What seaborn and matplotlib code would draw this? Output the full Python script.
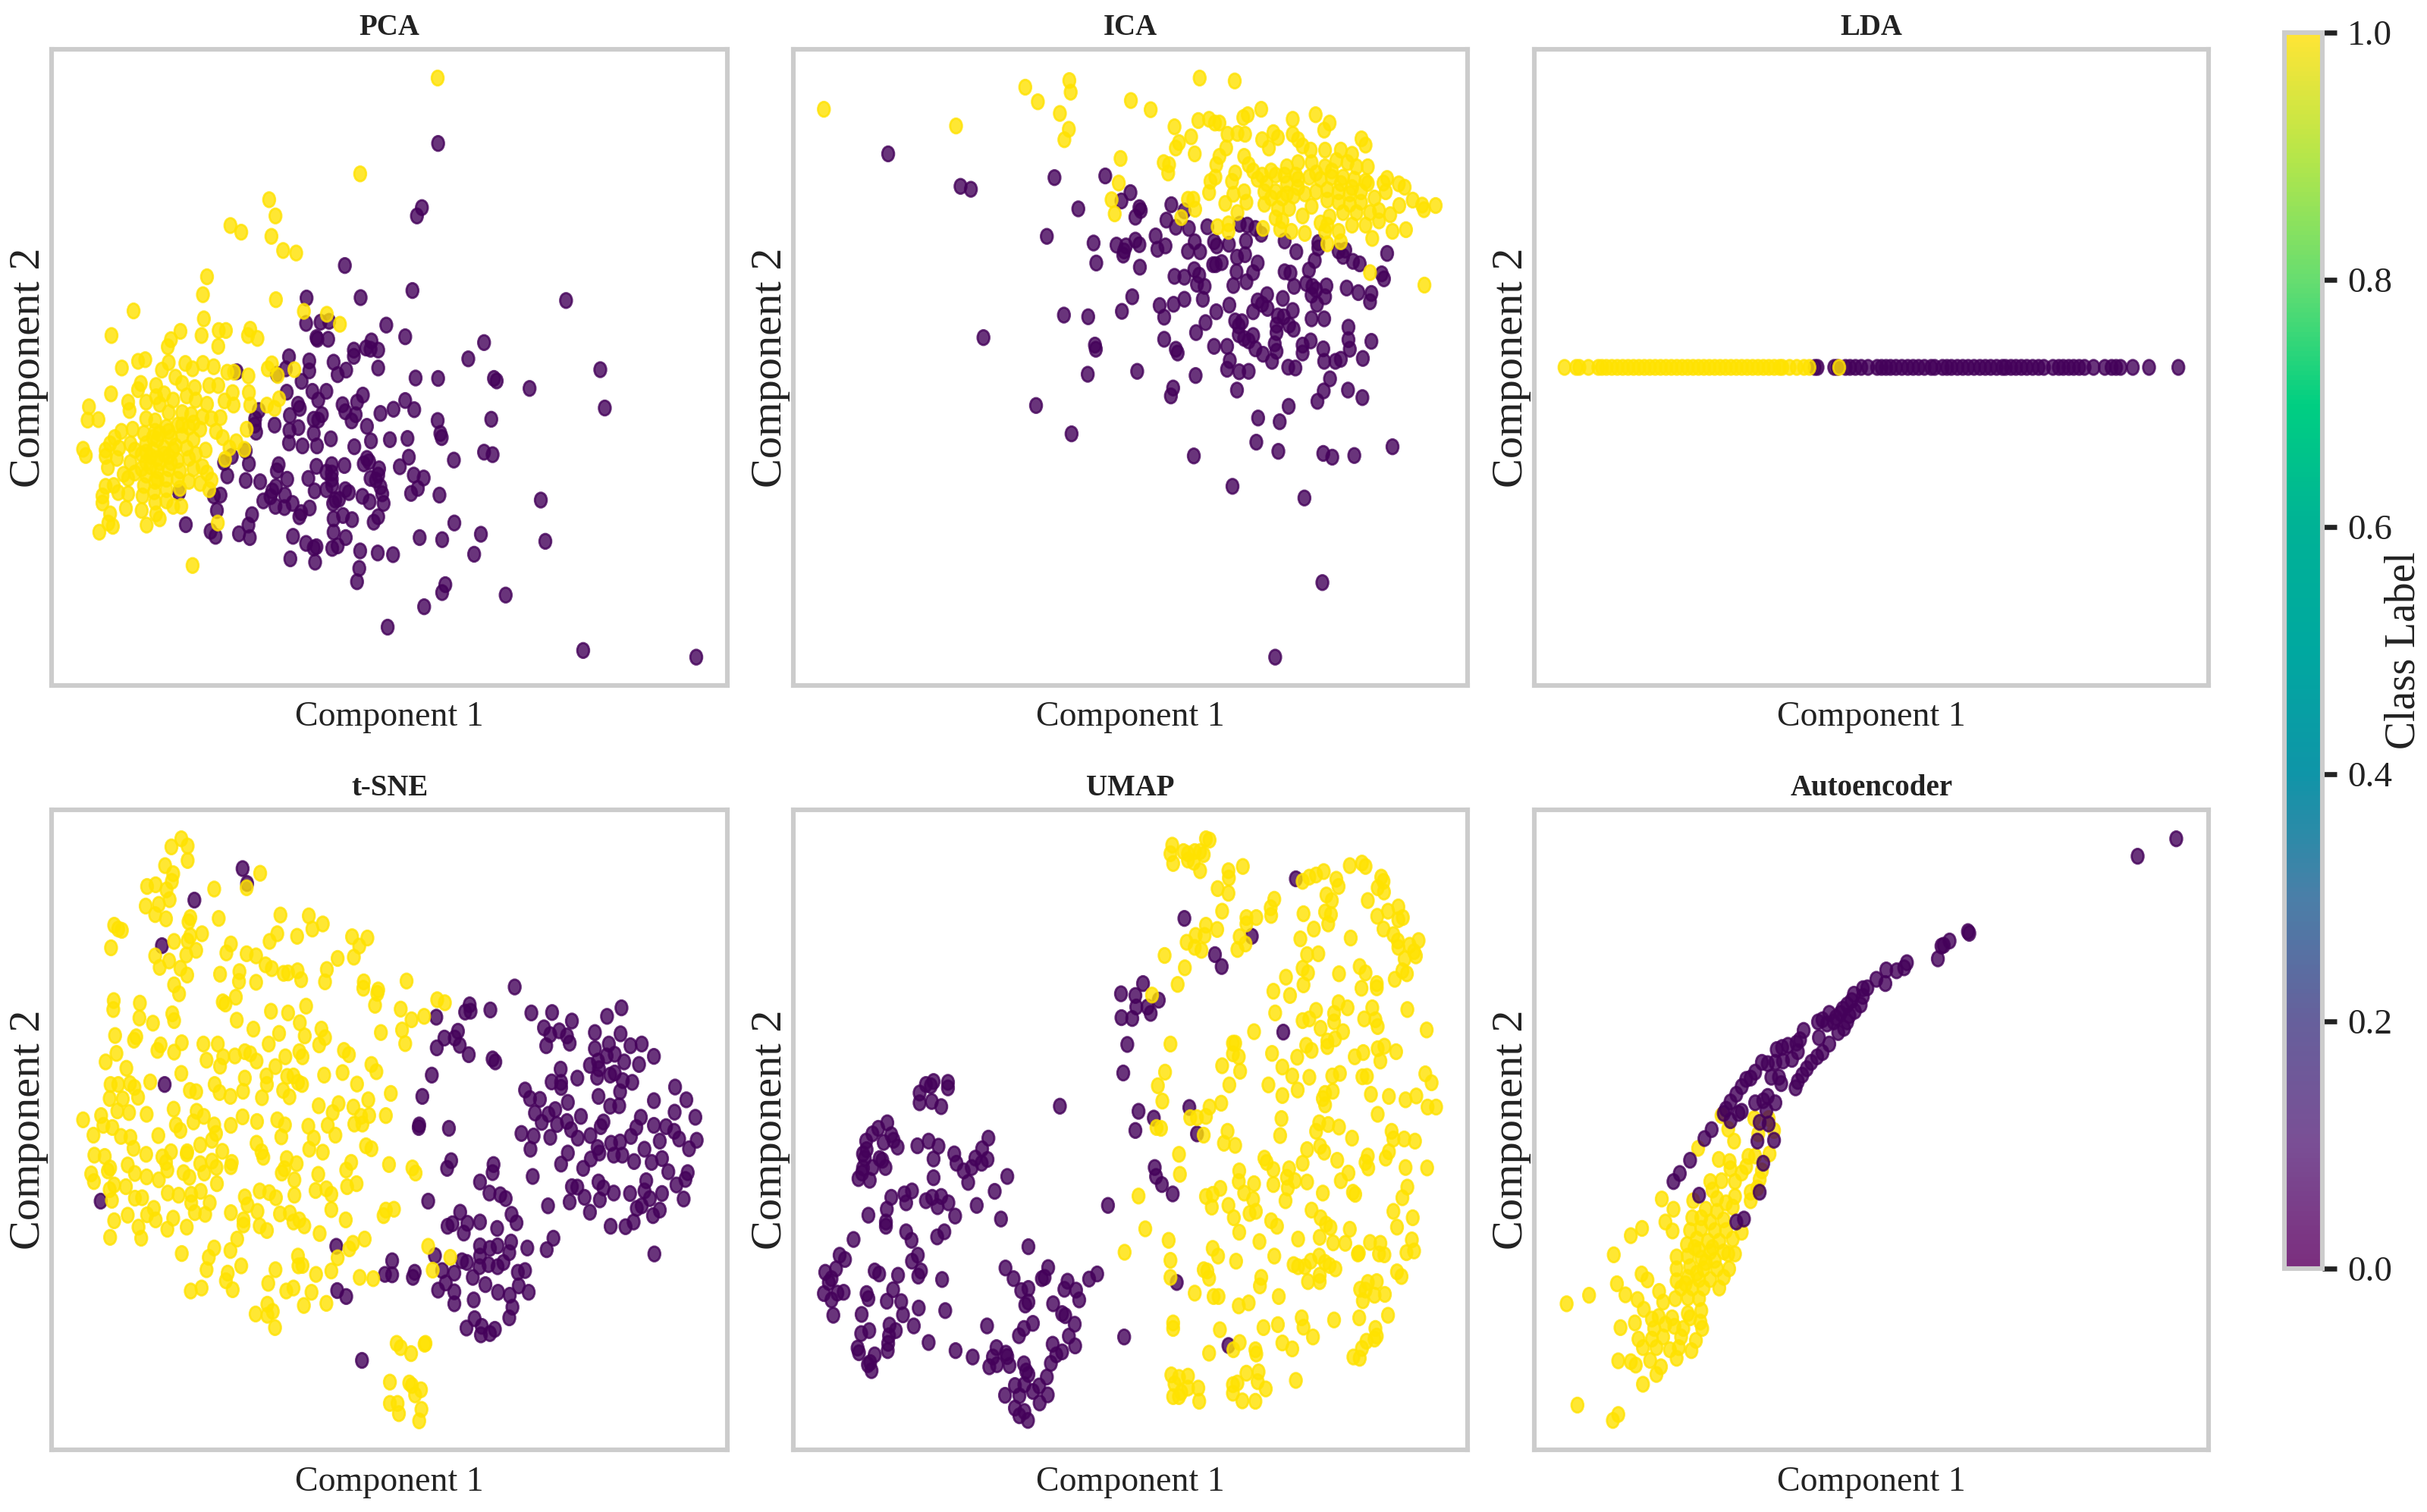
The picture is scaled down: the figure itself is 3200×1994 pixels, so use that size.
import numpy as np
import pandas as pd
import matplotlib.pyplot as plt
import matplotlib as mpl
from matplotlib.colors import LinearSegmentedColormap
from matplotlib.path import Path
from matplotlib.transforms import Affine2D
import seaborn as sns

sns.set_style("white")
plt.rcParams["font.family"] = ["Liberation Serif", "DejaVu Serif"]

# values, in arbitrary embedding units (no ticks on the original)
pca_purple = [(888,254),(852,408),(841,428),(681,547),(831,607),(716,624),(596,625),(1172,631),(595,686),(627,683),(646,681),(773,690),(618,720),(620,724),(644,724),(815,718),(990,732),(740,728),(738,748),(755,750),(728,745),(701,750),(701,765),(955,771),(557,766),(602,776),(656,779),(755,793),(684,798),(665,809),(550,795),(602,800),(530,808),(585,825),(441,802),(838,817),(888,818),(1012,818),(1018,824),(1248,797),(1091,842),(609,849),(640,849),(552,851),(721,858),(622,870),(708,875),(815,871),(577,880),(581,890),(676,881),(682,898),(789,892),(835,893),(1258,889),(705,905),(760,902),(559,907),(612,916),(630,905),(622,918),(696,920),(887,919),(1006,916),(490,895),(482,915),(481,930),(525,930),(730,933),(558,943),(578,936),(484,947),(612,950),(893,950),(896,960),(650,963),(781,965),(820,962),(739,968),(557,973),(587,980),(619,980),(702,982),(990,995),(1009,1001),(461,992),(823,1007),(923,1014),(730,1010),(723,1023),(468,1023),(430,1005),(413,1020),(534,1025),(530,1040),(618,1029),(652,1025),(680,1027),(735,1018),(757,1035),(803,1030),(640,1043),(652,1045),(420,1052),(461,1063),(493,1066),(553,1060),(600,1058),(652,1060),(755,1050),(738,1058),(750,1062),(834,1050),(856,1057),(653,1075),(760,1078),(843,1082),(528,1078),(520,1088),(614,1088),(640,1085),(682,1085),(690,1092),(828,1094),(891,1098),(1116,1110),(390,1100),(405,1098),(313,1092),(500,1112),(516,1102),(548,1098),(527,1125),(565,1118),(547,1128),(660,1110),(655,1118),(668,1108),(720,1101),(736,1114),(764,1095),(767,1118),(397,1135),(603,1129),(584,1140),(580,1150),(475,1145),(467,1170),(677,1147),(656,1155),(697,1157),(755,1150),(745,1163),(924,1165),(328,1169),(383,1185),(394,1197),(446,1191),(470,1200),(566,1197),(656,1187),(683,1200),(847,1200),(897,1205),(983,1192),(1126,1209),(595,1214),(612,1225),(653,1226),(665,1220),(715,1232),(754,1237),(788,1241),(968,1240),(560,1251),(615,1259),(713,1274),(708,1306),(904,1313),(897,1332),(1038,1338),(857,1366),(776,1415),(1210,1471),(1461,1487),(618,1222)]
pca_yellow = [(887,97),(715,327),(513,389),(527,428),(427,451),(451,467),(518,477),(544,511),(573,517),(375,574),(366,617),(528,629),(590,657),(641,664),(212,656),(368,675),(670,688),(163,715),(316,705),(363,715),(401,703),(417,703),(471,700),(466,715),(487,722),(295,725),(288,742),(400,741),(222,777),(238,773),(186,793),(275,798),(290,780),(327,782),(343,795),(366,782),(390,790),(420,803),(435,803),(467,812),(510,795),(519,783),(569,797),(532,811),(162,855),(222,845),(228,830),(262,835),(262,862),(280,855),(305,815),(320,830),(348,840),(380,835),(400,835),(432,852),(468,852),(113,886),(110,918),(134,917),(200,875),(203,895),(240,875),(270,880),(300,870),(330,860),(350,870),(375,880),(414,872),(434,882),(471,882),(508,882),(525,890),(535,867),(405,912),(463,940),(185,945),(210,940),(240,915),(260,920),(290,900),(320,900),(340,905),(365,910),(385,915),(170,960),(160,975),(100,988),(106,1003),(150,990),(180,985),(205,975),(235,950),(260,945),(285,935),(310,930),(335,935),(360,940),(395,945),(410,960),(440,970),(425,985),(458,988),(150,1005),(175,1010),(215,990),(240,975),(265,965),(295,960),(320,955),(345,965),(372,990),(155,1032),(205,1020),(230,1000),(255,990),(280,985),(305,980),(330,985),(350,1000),(415,1012),(190,1048),(215,1045),(240,1020),(265,1010),(290,1005),(310,1015),(335,1010),(365,1030),(200,1058),(240,1050),(265,1040),(290,1035),(315,1040),(345,1035),(375,1045),(385,1062),(150,1077),(168,1075),(178,1092),(200,1095),(235,1075),(260,1065),(285,1060),(310,1060),(335,1065),(360,1070),(143,1100),(143,1117),(232,1100),(258,1090),(285,1085),(315,1082),(380,1085),(195,1130),(230,1135),(260,1115),(285,1112),(300,1125),(318,1125),(160,1143),(262,1143),(270,1155),(156,1165),(166,1173),(136,1187),(241,1170),(399,1165),(343,1267),(250,1030),(270,1020),(295,1020),(250,1005),(280,1000),(230,1035),(265,1060),(300,990),(320,930),(345,925),(290,945),(270,950),(255,960),(240,995)]

ica_purple = [(238,279),(399,357),(422,364),(608,336),(721,332),(661,411),(777,372),(757,392),(797,408),(800,415),(788,431),(868,401),(897,416),(857,438),(878,455),(907,458),(948,454),(591,477),(695,493),(833,476),(788,486),(797,497),(746,498),(767,500),(763,512),(761,522),(837,508),(855,500),(920,490),(963,490),(969,500),(996,496),(905,513),(932,514),(1034,488),(1020,448),(1037,450),(1055,458),(1068,472),(1120,488),(1146,514),(1195,492),(1195,505),(1240,512),(1255,510),(1250,525),(1272,537),(1287,543),(1348,518),(1187,535),(701,541),(798,551),(1014,527),(1032,521),(961,545),(980,540),(967,545),(1060,541),(1013,562),(1050,564),(919,557),(875,573),(897,575),(930,570),(1120,562),(1133,565),(1174,558),(1336,567),(1341,579),(1035,586),(925,592),(942,597),(1006,595),(1141,597),(1168,590),(1182,597),(1190,605),(1213,596),(1258,601),(1284,612),(1313,614),(1310,634),(781,622),(1081,617),(1116,626),(1210,622),(1180,618),(1060,632),(938,628),(897,628),(873,640),(842,643),(1070,640),(1082,650),(1192,640),(758,657),(852,671),(968,658),(997,642),(1050,658),(1138,655),(629,666),(683,670),(1180,675),(1208,675),(1105,668),(1118,670),(1010,680),(1025,682),(1018,692),(944,684),(1130,690),(1140,700),(1102,690),(1102,708),(1262,695),(450,720),(923,708),(852,724),(1018,713),(1030,722),(1050,715),(1040,728),(1262,725),(1313,729),(1178,728),(963,741),(992,741),(1098,735),(1160,738),(698,738),(700,748),(878,748),(882,757),(1055,747),(1072,760),(1102,753),(1160,757),(1206,747),(1265,748),(998,775),(1092,777),(1208,777),(1233,777),(1245,772),(1294,770),(792,801),(682,808),(992,796),(1019,802),(1040,801),(1128,791),(1144,793),(922,811),(1221,819),(872,841),(867,860),(1014,846),(1207,848),(1261,846),(1293,864),(1193,873),(567,883),(1129,885),(1061,913),(1109,922),(646,951),(1057,971),(1106,993),(1206,998),(1226,1007),(1275,1003),(1360,982),(918,1004),(1004,1077),(1164,1105),(1204,1308),(1099,1487)]
ica_yellow = [(95,172),(389,212),(543,119),(641,103),(644,131),(571,154),(620,182),(640,220),(630,245),(778,151),(822,173),(931,97),(1009,104),(755,290),(851,300),(861,325),(863,305),(875,214),(878,265),(885,252),(912,238),(920,279),(928,199),(952,196),(965,205),(975,205),(1028,192),(1038,185),(1068,172),(1138,196),(1189,185),(1220,205),(1208,222),(1291,243),(1300,258),(751,349),(735,389),(742,423),(890,432),(905,388),(917,388),(921,412),(955,345),(952,372),(966,335),(968,305),(975,285),(990,265),(993,232),(1015,230),(1032,232),(1003,345),(1010,325),(988,398),(1006,376),(1015,420),(1035,395),(1030,370),(971,454),(995,447),(995,465),(1072,458),(1075,400),(1070,245),(1085,265),(1095,228),(1105,240),(1138,232),(1150,245),(1160,260),(1178,270),(1210,270),(1245,270),(1270,280),(1030,285),(1040,305),(1050,320),(1060,340),(1080,350),(1100,330),(1125,310),(1150,300),(1180,300),(1210,310),(1235,295),(1260,300),(1280,310),(1305,310),(1075,370),(1100,370),(1125,350),(1150,340),(1175,335),(1200,340),(1225,335),(1250,335),(1275,340),(1300,345),(1090,385),(1115,385),(1140,380),(1165,375),(1190,370),(1215,365),(1240,370),(1265,375),(1290,370),(1305,350),(1340,349),(1348,338),(1374,351),(1387,359),(1105,410),(1130,410),(1160,428),(1180,405),(1215,390),(1240,395),(1265,400),(1290,395),(1320,385),(1345,370),(1405,390),(1426,402),(1430,413),(1456,403),(1375,403),(1100,433),(1115,440),(1200,445),(1220,430),(1250,420),(1280,420),(1310,420),(1330,415),(1355,425),(1110,460),(1135,465),(1165,470),(1210,465),(1240,465),(1270,450),(1300,450),(1330,440),(1360,465),(1390,461),(1315,482),(1215,495),(1245,490),(1310,564),(1431,594),(1215,450),(1090,320),(1070,330),(1120,330),(1145,330),(1190,325),(1225,320),(1245,350),(1270,360),(1150,360),(1125,375)]

lda_purple_x = [662,668,705,712,730,740,752,765,780,800,810,820,830,842,855,868,880,892,905,920,928,945,955,965,978,990,1002,1015,1028,1040,1052,1065,1078,1085,1097,1108,1120,1132,1145,1158,1170,1190,1203,1213,1225,1236,1248,1260,1280,1305,1320,1330,1340,1367,1403,1468]
lda_yellow_x = [107,133,140,160,182,190,200,212,224,236,248,260,272,284,296,308,320,332,344,356,368,380,392,404,416,428,440,452,464,476,488,500,512,524,536,548,560,572,584,590,606,622,638,650,716]

tsne_purple = [(454,170),(464,205),(347,244),(275,351),(281,677),(139,951),(662,1057),(664,1161),(684,1175),(719,1325),(1058,448),(958,490),(948,507),(960,505),(1004,502),(884,519),(1095,509),(1141,508),(1185,528),(1263,517),(1295,497),(932,552),(902,568),(925,568),(885,591),(936,585),(956,607),(1009,617),(1015,624),(1123,544),(1137,560),(1157,551),(1174,563),(1180,580),(1128,586),(1236,555),(1293,558),(1236,593),(1267,582),(1315,586),(1340,582),(1367,611),(1225,632),(1243,622),(1262,610),(1280,606),(1301,624),(1334,630),(874,655),(1160,641),(1140,671),(1161,672),(1161,684),(1197,662),(1241,660),(1245,640),(1270,655),(1280,650),(1298,668),(1319,672),(1292,694),(1414,683),(853,705),(1081,690),(1092,710),(1114,712),(1176,719),(1244,705),(1367,715),(1439,713),(1270,728),(1290,727),(1148,736),(1103,744),(1133,747),(1118,766),(1205,752),(1338,754),(1413,742),(1459,754),(846,772),(845,778),(912,780),(1152,771),(1174,764),(1183,783),(1255,765),(1249,776),(1328,778),(1367,773),(1394,776),(1412,787),(1073,792),(1100,798),(1137,801),(1198,803),(1226,797),(1316,799),(1423,805),(1462,808),(1093,829),(1242,825),(1272,815),(1292,812),(1380,810),(1445,828),(1346,829),(1176,838),(1246,838),(1227,852),(1278,843),(1297,843),(1161,864),(1323,858),(1362,860),(1385,851),(917,856),(908,874),(1011,865),(1009,884),(1210,874),(1399,882),(1442,884),(1437,900),(1098,893),(1244,906),(1350,903),(1417,913),(981,906),(1002,932),(1026,936),(1038,945),(1185,917),(1197,918),(1213,942),(1255,920),(1278,932),(1314,933),(1346,927),(1385,933),(1433,946),(866,951),(1247,948),(1358,945),(1180,953),(1132,962),(1340,962),(1329,968),(1380,972),(1225,977),(1365,985),(937,977),(1051,982),(1062,1002),(981,1000),(909,1010),(920,1004),(953,1003),(1019,1015),(945,1026),(1271,1010),(1304,1011),(1322,1000),(1144,1038),(1129,1065),(1050,1047),(1086,1061),(981,1056),(1003,1062),(1020,1056),(1046,1072),(881,1079),(981,1080),(941,1091),(952,1095),(980,1105),(786,1091),(1368,1075),(1000,1100),(1020,1105),(1033,1095),(770,1123),(786,1124),(836,1118),(832,1130),(897,1114),(924,1120),(965,1130),(1065,1118),(1081,1114),(905,1143),(993,1147),(1067,1150),(888,1160),(924,1164),(1021,1165),(1047,1172),(1089,1165),(967,1183),(1053,1200),(924,1192),(1046,1225),(969,1227),(951,1249),(985,1245),(1014,1252),(983,1265),(1003,1262)]
tsne_yellow = [(318,100),(296,119),(332,117),(332,151),(282,163),(300,182),(297,200),(242,212),(261,208),(285,220),(292,243),(239,258),(268,254),(260,278),(284,288),(338,285),(334,295),(493,181),(463,215),(391,218),(401,287),(538,279),(601,281),(632,300),(609,312),(169,303),(178,312),(186,315),(364,323),(338,328),(332,340),(302,341),(162,356),(428,347),(351,362),(329,373),(418,368),(463,370),(484,375),(260,375),(291,387),(270,402),(316,404),(331,420),(404,418),(447,412),(446,435),(484,437),(505,396),(519,405),(545,416),(555,415),(576,410),(584,431),(531,323),(514,341),(575,329),(697,330),(731,333),(713,352),(701,378),(665,381),(641,407),(637,436),(723,436),(722,451),(755,455),(753,463),(748,491),(818,434),(302,443),(313,464),(168,480),(167,501),(226,486),(225,521),(298,511),(302,527),(255,533),(410,483),(416,488),(439,472),(441,526),(517,505),(555,509),(595,493),(581,532),(886,478),(903,485),(805,500),(829,525),(857,517),(171,562),(218,565),(213,573),(478,547),(535,557),(592,563),(629,547),(637,567),(624,584),(761,555),(808,549),(815,581),(272,584),(265,597),(302,601),(319,579),(367,582),(399,582),(512,582),(174,604),(150,624),(374,620),(411,612),(404,634),(437,610),(459,600),(471,605),(485,622),(549,612),(580,600),(587,612),(679,597),(690,607),(527,635),(196,639),(318,651),(740,630),(751,647),(635,655),(676,649),(161,677),(178,677),(204,675),(214,684),(249,671),(459,662),(507,657),(508,677),(553,658),(567,657),(577,672),(586,677),(708,676),(392,677),(337,691),(351,694),(403,696),(455,693),(427,705),(497,708),(544,691),(558,706),(783,698),(159,710),(188,711),(222,707),(733,713),(623,727),(667,722),(700,730),(176,739),(202,743),(241,747),(301,735),(352,740),(368,752),(654,743),(100,760),(140,750),(454,753),(486,764),(531,760),(772,750),(717,752),(735,750),(145,773),(165,778),(345,765),(306,772),(316,785),(391,772),(428,773),(548,772),(600,775),(643,773),(702,770),(720,770),(123,796),(184,799),(205,801),(267,797),(395,792),(386,808),(540,800),(612,803),(660,796),(212,827),(360,819),(485,815),(728,821),(740,828),(125,843),(148,846),(240,841),(295,835),(331,835),(330,840),(409,834),(496,835),(500,848),(602,829),(632,836),(276,847),(160,873),(155,880),(199,866),(284,860),(287,878),(360,863),(386,857),(396,872),(430,860),(428,870),(552,851),(574,863),(695,860),(779,865),(831,873),(838,885),(118,887),(124,905),(215,886),(241,894),(268,901),(323,884),(336,895),(369,885),(541,885),(547,875),(622,888),(684,878),(569,901),(397,910),(169,913),(159,924),(195,917),(492,927),(513,931),(616,926),(640,922),(651,935),(686,917),(707,910),(288,932),(312,937),(340,935),(361,928),(215,944),(231,943),(164,949),(459,941),(465,960),(528,943),(569,937),(340,955),(381,955),(257,968),(242,983),(651,971),(790,970),(772,972),(767,985),(348,978),(371,982),(428,978),(487,975),(537,981),(559,979),(169,997),(199,984),(261,995),(300,991),(456,995),(456,1007),(492,1009),(567,1000),(580,995),(591,1009),(683,995),(223,1012),(287,1017),(330,1012),(508,1020),(160,1036),(229,1038),(625,1027),(442,1040),(725,1040),(699,1050),(691,1063),(391,1061),(427,1067),(319,1074),(866,1057),(379,1083),(577,1080),(665,1084),(915,1083),(451,1103),(374,1112),(578,1103),(587,1102),(527,1112),(651,1115),(421,1120),(617,1123),(876,1113),(417,1138),(714,1130),(744,1133),(511,1144),(432,1159),(339,1162),(363,1155),(551,1162),(567,1155),(607,1165),(509,1193),(590,1196),(640,1191),(521,1210),(483,1216),(509,1219),(526,1248),(796,1285),(805,1295),(860,1285),(858,1287),(828,1309),(781,1376),(824,1378),(830,1384),(850,1394),(837,1406),(781,1426),(798,1426),(801,1450),(851,1440),(846,1467)]

umap_purple = [(1145,194),(897,287),(1047,329),(965,372),(980,400),(805,440),(756,464),(788,468),(840,479),(815,495),(790,495),(822,510),(757,520),(781,522),(1117,554),(770,583),(761,650),(908,731),(795,740),(829,756),(788,785),(925,793),(620,728),(322,677),(339,670),(371,672),(371,685),(308,697),(333,680),(308,720),(335,717),(356,729),(236,767),(216,780),(203,793),(189,810),(245,795),(250,808),(228,813),(259,824),(303,821),(328,810),(350,822),(461,803),(447,828),(190,830),(182,840),(385,840),(339,852),(432,850),(219,851),(225,855),(186,850),(459,853),(446,862),(390,862),(182,873),(232,872),(203,872),(424,872),(406,880),(172,898),(180,885),(197,902),(339,896),(503,893),(416,907),(831,872),(834,893),(847,912),(871,934),(475,928),(245,942),(274,934),(291,927),(322,950),(336,942),(278,955),(356,940),(348,964),(372,955),(435,961),(727,961),(235,970),(194,984),(233,1000),(233,1010),(387,986),(489,993),(278,1023),(290,1043),(363,1023),(347,1035),(161,1041),(550,1058),(130,1078),(142,1088),(304,1078),(291,1092),(122,1110),(499,1108),(594,1107),(208,1115),(218,1122),(311,1115),(305,1127),(260,1125),(98,1118),(112,1133),(517,1133),(580,1133),(586,1130),(358,1135),(880,1142),(703,1122),(685,1134),(637,1139),(106,1142),(534,1161),(550,1156),(630,1158),(656,1160),(249,1159),(139,1165),(95,1168),(125,1167),(190,1168),(194,1180),(663,1183),(112,1183),(235,1186),(267,1187),(550,1188),(543,1195),(605,1192),(306,1202),(365,1208),(116,1219),(179,1217),(271,1218),(625,1215),(632,1220),(295,1244),(653,1240),(241,1242),(196,1255),(178,1262),(255,1255),(240,1267),(458,1244),(540,1250),(560,1238),(529,1267),(763,1270),(238,1285),(328,1283),(640,1268),(604,1287),(654,1291),(995,1290),(170,1296),(237,1302),(388,1302),(479,1295),(173,1307),(426,1317),(500,1308),(625,1305),(612,1312),(208,1312),(471,1317),(503,1316),(198,1330),(193,1335),(463,1340),(480,1335),(508,1337),(540,1333),(600,1332),(545,1350),(201,1349),(550,1358),(591,1364),(520,1384),(541,1382),(574,1385),(498,1407),(530,1408),(560,1398),(593,1406),(575,1425),(520,1437),(541,1445),(530,1455),(549,1466)]
umap_yellow = [(945,100),(953,103),(870,115),(866,135),(895,130),(905,135),(920,130),(932,130),(940,137),(872,158),(905,150),(918,155),(932,175),(995,175),(996,192),(1027,165),(1160,200),(1175,190),(1190,185),(1207,177),(1265,163),(1292,157),(1300,165),(1235,195),(1240,212),(1335,190),(1340,200),(1327,215),(1341,225),(971,217),(995,228),(1213,232),(1225,245),(1097,242),(1089,262),(1090,280),(1305,245),(981,270),(1162,276),(1210,272),(1223,278),(1326,282),(1350,270),(1373,260),(1373,290),(1383,285),(1035,285),(1035,300),(1057,285),(945,303),(970,313),(1185,312),(1217,300),(1340,312),(922,327),(942,327),(902,343),(920,355),(935,362),(1020,330),(1033,347),(1015,360),(1155,335),(1267,333),(1362,325),(1372,340),(1373,355),(1418,339),(1398,350),(853,374),(1170,372),(1195,370),(1408,365),(1412,375),(1387,382),(898,403),(1160,404),(1172,415),(1287,400),(1300,415),(1241,417),(1382,410),(1392,417),(1123,425),(882,442),(1162,443),(1365,430),(1325,440),(1325,450),(1291,451),(1095,458),(1132,468),(825,467),(1240,485),(1260,497),(1190,503),(1315,497),(1393,501),(1099,509),(1230,510),(1160,527),(1175,523),(1230,530),(1297,523),(1322,525),(1327,541),(1200,545),(1250,553),(1052,553),(1436,549),(866,582),(1005,580),(1010,580),(1232,570),(1215,575),(1215,588),(1168,585),(1180,597),(1327,593),(1342,587),(1368,600),(1005,605),(1018,612),(1092,604),(1148,613),(1276,612),(1295,602),(1333,622),(1115,636),(981,633),(1021,646),(854,648),(1137,657),(1175,660),(1226,657),(1243,651),(1293,659),(1303,658),(1433,652),(1447,673),(838,680),(997,678),(1084,678),(1149,690),(1227,693),(1210,698),(1205,710),(1115,703),(1312,700),(1352,705),(1389,713),(1413,704),(848,716),(1210,725),(979,721),(953,730),(1438,730),(1457,730),(1327,747),(910,755),(925,755),(945,752),(1113,757),(835,778),(845,780),(1197,767),(1217,771),(1241,777),(1190,787),(993,787),(1110,797),(940,796),(1358,787),(1270,803),(1362,805),(1386,805),(1410,810),(985,815),(1010,820),(1199,822),(1208,836),(1170,830),(885,841),(1352,835),(1345,850),(1075,850),(1080,860),(1237,855),(1305,845),(1300,860),(1160,862),(1095,877),(1306,873),(1389,872),(1437,873),(887,888),(1019,880),(1018,905),(1130,875),(1125,895),(1143,903),(1262,885),(1245,903),(1052,910),(1095,912),(1170,906),(1127,920),(977,921),(1030,932),(1205,932),(1272,930),(1277,935),(1393,918),(795,939),(945,940),(960,935),(1122,950),(1050,947),(1382,943),(958,965),(995,961),(1180,972),(1042,980),(1056,975),(1362,975),(1007,990),(1200,990),(1405,990),(1090,997),(1103,1010),(1212,1005),(1222,1013),(1370,1012),(810,1016),(1265,1017),(1019,1024),(862,1043),(1064,1046),(1150,1040),(1198,1036),(1228,1049),(1255,1050),(1310,1048),(1333,1050),(1403,1042),(960,1062),(764,1071),(972,1080),(1097,1080),(1283,1075),(1285,1073),(1330,1075),(1342,1077),(1391,1072),(1408,1068),(866,1090),(1012,1092),(1140,1100),(1150,1105),(1165,1105),(1178,1092),(1197,1080),(1210,1095),(1220,1102),(1233,1110),(940,1112),(948,1115),(952,1132),(1370,1117),(1380,1128),(866,1130),(1068,1130),(1065,1150),(1172,1140),(1198,1125),(1198,1140),(1325,1140),(1305,1142),(1288,1158),(1300,1160),(920,1167),(962,1175),(973,1175),(1107,1175),(1320,1172),(1343,1170),(1294,1185),(1018,1197),(1040,1190),(1350,1219),(1158,1225),(1230,1230),(1286,1225),(872,1237),(872,1250),(976,1253),(1073,1248),(1105,1241),(1162,1247),(1322,1250),(1183,1270),(1325,1268),(1302,1280),(1320,1275),(1020,1283),(1115,1284),(1006,1300),(1055,1300),(1137,1298),(1292,1297),(952,1308),(1057,1310),(1273,1317),(1287,1320),(1035,1355),(1062,1352),(868,1359),(885,1365),(905,1362),(1145,1372),(875,1380),(1015,1378),(1005,1382),(1060,1375),(1078,1392),(928,1390),(905,1390),(890,1400),(872,1410),(885,1410),(1005,1402),(930,1421),(1026,1420),(1055,1421)]

ae_purple = [(1468,100),(1382,141),(1007,322),(1004,318),(963,340),(950,350),(945,352),(937,382),(868,391),(822,408),(862,403),(845,410),(800,430),(820,440),(780,450),(770,452),(750,465),(770,470),(765,490),(745,480),(735,490),(752,505),(725,500),(740,515),(720,510),(710,520),(695,510),(680,525),(670,530),(705,530),(690,535),(735,530),(728,545),(715,555),(638,550),(672,567),(695,582),(630,572),(622,580),(603,585),(590,590),(578,595),(625,600),(680,602),(668,612),(655,625),(545,625),(558,628),(575,625),(592,622),(612,618),(645,640),(635,655),(625,670),(620,685),(530,648),(520,662),(510,665),(500,682),(566,660),(583,660),(588,675),(488,700),(475,718),(465,735),(460,745),(558,705),(530,720),(548,715),(575,720),(555,738),(493,745),(500,740),(475,762),(540,766),(433,783),(417,804),(385,855),(362,886),(348,905),(572,808),(535,810),(560,770),(548,862),(540,930),(405,937),(505,993),(488,1000)]
ae_yellow = [(455,750),(470,782),(528,757),(560,757),(572,785),(537,793),(483,810),(403,827),(449,853),(515,846),(530,845),(562,840),(473,858),(475,875),(510,870),(455,903),(430,905),(500,885),(485,905),(545,880),(540,900),(535,920),(520,930),(520,950),(435,925),(445,945),(485,940),(465,955),(322,946),(392,950),(348,970),(420,970),(445,975),(480,965),(390,990),(410,990),(430,1000),(460,995),(330,1000),(278,1015),(253,1032),(346,1021),(385,1020),(410,1015),(440,1020),(465,1020),(500,1024),(400,1040),(425,1045),(450,1045),(480,1040),(378,1053),(405,1065),(430,1070),(460,1070),(215,1077),(355,1082),(380,1080),(410,1085),(440,1090),(470,1075),(485,1075),(355,1110),(385,1105),(415,1110),(445,1110),(472,1110),(277,1122),(222,1145),(290,1136),(355,1138),(380,1130),(405,1135),(430,1135),(460,1130),(450,1155),(160,1172),(110,1192),(241,1171),(316,1163),(365,1155),(390,1155),(415,1155),(268,1182),(325,1188),(352,1180),(380,1178),(405,1180),(282,1205),(380,1215),(410,1208),(345,1225),(315,1222),(300,1228),(230,1248),(262,1237),(408,1235),(412,1250),(305,1250),(350,1245),(370,1250),(330,1240),(385,1225),(270,1275),(300,1275),(325,1270),(365,1270),(398,1278),(280,1295),(310,1295),(340,1300),(360,1295),(388,1302),(355,1320),(225,1326),(253,1328),(264,1336),(296,1325),(320,1340),(310,1358),(280,1381),(134,1430),(225,1452),(213,1466),(395,1060),(420,1095),(400,1120),(375,1145),(435,1060)]

titles = ["PCA", "ICA", "LDA", "t-SNE", "UMAP", "Autoencoder"]
xlims = [(30, 1530), (27, 1527), (40, 1535), (30, 1530), (27, 1527), (38, 1540)]
ylims = [(1555, 28), (1555, 28), (1, -1), (1535, 32), (1535, 32), (1535, 32)]
colorbar_ticks = [0.0, 0.2, 0.4, 0.6, 0.8, 1.0]
point_colors = {0: "#44015a", 1: "#ffe200"}
colorbar_colors = ["#7b2e7e", "#7a4f95", "#66609c", "#4a7fa8", "#0f95a8", "#00a8a0",
                   "#00b296", "#00cf82", "#66dd70", "#b5e64a", "#ffe535"]

lda_purple = [(v, 0) for v in lda_purple_x]
lda_yellow = [(v, 0) for v in lda_yellow_x]
# yellow drawn first for the autoencoder, purple first elsewhere
panels = [
    (pca_purple, 0, pca_yellow, 1),
    (ica_purple, 0, ica_yellow, 1),
    (lda_purple, 0, lda_yellow, 1),
    (tsne_purple, 0, tsne_yellow, 1),
    (umap_purple, 0, umap_yellow, 1),
    (ae_yellow, 1, ae_purple, 0),
]

W, H = 3200, 1994
fig = plt.figure(figsize=(W / 200, H / 200), dpi=200)


def px_axes(left, top, right, bottom):
    return fig.add_axes([left / W, 1 - bottom / H, (right - left) / W, (bottom - top) / H])


cols = [(68, 959), (1046, 1935), (2023, 2912)]
rows = [(65, 904), (1068, 1912)]
# squashed circle, the markers in the reference are a bit taller than wide
dot = Path.unit_circle().transformed(Affine2D().scale(0.8, 1.0))

for i, title in enumerate(titles):
    left, right = cols[i % 3]
    top, bottom = rows[i // 3]
    ax = px_axes(left, top, right, bottom)
    first, first_lab, second, second_lab = panels[i]
    pts = np.array(first + second, dtype=float)
    labels = [first_lab] * len(first) + [second_lab] * len(second)
    df = pd.DataFrame({"x": pts[:, 0], "y": pts[:, 1], "label": labels})
    sns.scatterplot(data=df, x="x", y="y", hue="label", palette=point_colors,
                    marker=dot, s=50, alpha=0.8, linewidth=1.0, edgecolor="face",
                    legend=False, ax=ax)
    ax.set_xlim(*xlims[i])
    ax.set_ylim(*ylims[i])
    ax.set_xticks([])
    ax.set_yticks([])
    for sp in ax.spines.values():
        sp.set_color("#cccccc")
        sp.set_linewidth(2.2)
    ax.set_title(title, fontsize=14, fontweight="bold", color="#222222", pad=7)
    ax.set_xlabel("Component 1", fontsize=16.5, color="#222222")
    ax.xaxis.set_label_coords(0.5, -0.024 if i < 3 else -0.026)
    ax.set_ylabel("Component 2", fontsize=21, color="#222222")
    ax.yaxis.set_label_coords(-0.005, 0.5)

cax = px_axes(3012, 43, 3062, 1673)
cmap = LinearSegmentedColormap.from_list("bar", colorbar_colors)
sm = mpl.cm.ScalarMappable(norm=mpl.colors.Normalize(0, 1), cmap=cmap)
cbar = fig.colorbar(sm, cax=cax, ticks=colorbar_ticks)
cbar.ax.tick_params(labelsize=17, length=7, width=2.4, color="#222222", labelcolor="#222222", pad=5)
cbar.outline.set_edgecolor("#cccccc")
cbar.outline.set_linewidth(2.2)
cbar.set_label("Class Label", fontsize=20, color="#222222", labelpad=-4)

plt.savefig("out.png", dpi=200)
